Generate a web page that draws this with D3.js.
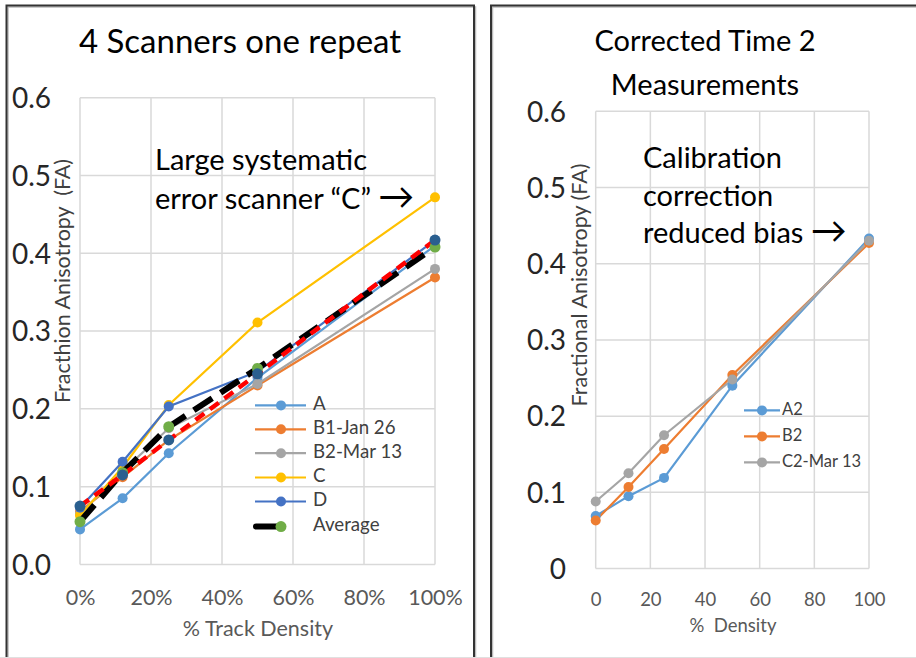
<!DOCTYPE html>
<html><head><meta charset="utf-8">
<script src="https://cdn.jsdelivr.net/npm/d3@7"></script>
<style>
html,body{margin:0;padding:0;background:#fff;}
svg{display:block;font-family:Lato,"Open Sans",sans-serif;}
</style></head>
<body>
<svg id="chart" width="916" height="658"></svg>
<script>
// ---------- data: left chart ----------
const leftDensity = [0, 12, 25, 50, 100];             // % track density
const leftSeriesNames = ["A", "B1-Jan 26", "B2-Mar 13", "C", "D"];
const valA  = [0.045, 0.085, 0.143, 0.240, 0.410];
const valB1 = [0.068, 0.112, 0.160, 0.230, 0.369];
const valB2 = [0.065, 0.120, 0.175, 0.232, 0.380];
const valC  = [0.063, 0.125, 0.205, 0.311, 0.472];
const valD  = [0.073, 0.132, 0.203, 0.248, 0.417];
const valAverage = [0.055, 0.118, 0.177, 0.252, 0.408];
const valFit = [0.075, 0.115, 0.160, 0.245, 0.417];   // red dashed line (not in legend)
const leftXTicks = [0, 20, 40, 60, 80, 100];
const leftYTicks = [0, 0.1, 0.2, 0.3, 0.4, 0.5, 0.6];

// ---------- data: right chart ----------
const rightDensity = [0, 12, 25, 50, 100];
const rightSeriesNames = ["A2", "B2", "C2-Mar 13"];
const valA2 = [0.069, 0.095, 0.119, 0.240, 0.433];
const valB2r = [0.063, 0.107, 0.157, 0.254, 0.427];
const valC2 = [0.088, 0.125, 0.175, 0.248, 0.430];
const rightXTicks = [0, 20, 40, 60, 80, 100];
const rightYTicks = [0, 0.1, 0.2, 0.3, 0.4, 0.5, 0.6];

const svg = d3.select("#chart");
const gridColor = "#d9d9d9";
const tickColor = "#595959";

// panel borders
function panelBorder(x1, x2, top) {
  const g = svg.append("g");
  const p = `M${x1},660 L${x1},${top} L${x2},${top} L${x2},660`;
  g.append("path").attr("d", p).attr("fill", "none")
    .attr("stroke", "#bbb").attr("stroke-width", 1.5).attr("transform", "translate(1.5,1.5)");
  g.append("path").attr("d", p).attr("fill", "none").attr("stroke", "#333").attr("stroke-width", 2);
}
panelBorder(6.5, 474, 5.5);
panelBorder(491, 930, 5.5);
svg.append("line").attr("x1", 0).attr("x2", 916).attr("y1", 657.5).attr("y2", 657.5)
  .attr("stroke", "#e0e0e0").attr("stroke-width", 1);

function drawPanel(cfg) {
  const g = svg.append("g");
  const x = d3.scaleLinear().domain([0, 100]).range([cfg.x0, cfg.x1]);
  const y = d3.scaleLinear().domain([0, 0.6]).range([cfg.y0, cfg.y1]);
  // grid
  g.append("g").selectAll("line").data(cfg.xTicks).join("line")
    .attr("x1", d => x(d)).attr("x2", d => x(d)).attr("y1", y(0)).attr("y2", y(0.6))
    .attr("stroke", gridColor).attr("stroke-width", 1.5);
  g.append("g").selectAll("line").data(cfg.yTicks).join("line")
    .attr("x1", x(0)).attr("x2", x(100)).attr("y1", d => y(d)).attr("y2", d => y(d))
    .attr("stroke", gridColor).attr("stroke-width", 1.5);
  // axes via d3 axis generators
  const xAxis = d3.axisBottom(x).tickValues(cfg.xTicks).tickFormat(cfg.xFmt).tickSize(0).tickPadding(0);
  const xa = g.append("g").attr("transform", `translate(0,${cfg.xLabelY})`).call(xAxis);
  xa.select(".domain").remove();
  xa.selectAll("text").attr("fill", tickColor).attr("font-size", cfg.xTickSize)
    .attr("font-family", "Lato").attr("dy", "0.35em").attr("y", 0);
  const yAxis = d3.axisLeft(y).tickValues(cfg.yTicks).tickFormat(cfg.yFmt).tickSize(0).tickPadding(0);
  const ya = g.append("g").attr("transform", `translate(${cfg.yLabelX},0)`).call(yAxis);
  ya.select(".domain").remove();
  ya.selectAll("text").attr("fill", "#262626").attr("font-size", 28).attr("font-family", "Lato")
    .attr("dy", "0.35em").attr("x", 0);
  return {g, x, y};
}

// ---------- LEFT ----------
const L = drawPanel({x0: 80, x1: 435, y0: 564.4, y1: 97.8,
  xTicks: leftXTicks, yTicks: leftYTicks,
  xFmt: d => d + "%", yFmt: d3.format(".1f"),
  xLabelY: 597, yLabelX: 51, xTickSize: 21.5});

svg.append("text").attr("x", 240).attr("y", 45).attr("text-anchor", "middle")
  .attr("dominant-baseline", "middle").attr("font-size", 33).attr("fill", "#000")
  .text("4 Scanners one repeat");
svg.append("text").attr("transform", "translate(65,281) rotate(-90)").attr("text-anchor", "middle")
  .attr("dominant-baseline", "middle").attr("font-size", 21.5).attr("fill", "#404040")
  .attr("xml:space", "preserve").text("Fracthion Anisotropy  (FA)");
svg.append("text").attr("x", 258).attr("y", 631).attr("text-anchor", "middle")
  .attr("dominant-baseline", "middle").attr("font-size", 21.5).attr("fill", tickColor)
  .text("% Track Density");
const annL = svg.append("text").attr("font-size", 29).attr("fill", "#000");
annL.append("tspan").attr("x", 155).attr("y", 170).text("Large systematic");
annL.append("tspan").attr("x", 155).attr("y", 208.5).text("error scanner \u201CC\u201D ");
annL.append("tspan").attr("font-size", 36).text("\u2192");

const leftSeries = [
  {name: "A", vals: valA, color: "#5B9BD5"},
  {name: "B1-Jan 26", vals: valB1, color: "#ED7D31"},
  {name: "B2-Mar 13", vals: valB2, color: "#A5A5A5"},
  {name: "C", vals: valC, color: "#FFC000"},
  {name: "D", vals: valD, color: "#4472C4"}
];
const lineL = d3.line().x((d, i) => L.x(leftDensity[i])).y(d => L.y(d));
leftSeries.forEach(s => {
  L.g.append("path").attr("d", lineL(s.vals)).attr("fill", "none").attr("stroke", s.color).attr("stroke-width", 2.2);
  L.g.selectAll(null).data(s.vals).join("circle").attr("cx", (d, i) => L.x(leftDensity[i])).attr("cy", d => L.y(d))
    .attr("r", 5).attr("fill", s.color);
});
// average
L.g.append("path").attr("d", lineL(valAverage)).attr("fill", "none").attr("stroke", "#000")
  .attr("stroke-width", 6).attr("stroke-dasharray", "22,10");
// red dashed fit
L.g.append("path").attr("d", lineL(valFit)).attr("fill", "none").attr("stroke", "#FF0000")
  .attr("stroke-width", 4.5).attr("stroke-dasharray", "11,7");
L.g.selectAll(null).data(valAverage).join("circle").attr("cx", (d, i) => L.x(leftDensity[i])).attr("cy", d => L.y(d))
  .attr("r", 5.5).attr("fill", "#70AD47");
L.g.selectAll(null).data(valFit).join("circle").attr("cx", (d, i) => L.x(leftDensity[i])).attr("cy", d => L.y(d))
  .attr("r", 5.5).attr("fill", "#2A5F8F");

// left legend
const legL = svg.append("g");
const legLY = [405.4, 429.3, 453.2, 477.5, 501.5];
leftSeries.forEach((s, i) => {
  legL.append("line").attr("x1", 255).attr("x2", 306).attr("y1", legLY[i]).attr("y2", legLY[i])
    .attr("stroke", s.color).attr("stroke-width", 2.2);
  legL.append("circle").attr("cx", 281).attr("cy", legLY[i]).attr("r", 5).attr("fill", s.color);
  legL.append("text").attr("x", 313).attr("y", legLY[i]).attr("dominant-baseline", "middle")
    .attr("font-size", 18.7).attr("fill", "#404040").text(s.name);
});
legL.append("line").attr("x1", 256).attr("x2", 279).attr("y1", 526.6).attr("y2", 526.6)
  .attr("stroke", "#000").attr("stroke-width", 6).attr("stroke-linecap", "round");
legL.append("circle").attr("cx", 281).attr("cy", 526.6).attr("r", 5.5).attr("fill", "#70AD47");
legL.append("text").attr("x", 313).attr("y", 526.6).attr("dominant-baseline", "middle")
  .attr("font-size", 18.7).attr("fill", "#404040").text("Average");

// ---------- RIGHT ----------
const R = drawPanel({x0: 595.7, x1: 869, y0: 568.6, y1: 111.2,
  xTicks: rightXTicks, yTicks: rightYTicks,
  xFmt: d => String(d), yFmt: d => d === 0 ? "0" : d3.format(".1f")(d),
  xLabelY: 600, yLabelX: 566, xTickSize: 18.5});

const t2 = svg.append("text").attr("text-anchor", "middle").attr("font-size", 29).attr("fill", "#000");
t2.append("tspan").attr("x", 705).attr("y", 44).attr("dominant-baseline", "middle").text("Corrected Time 2");
t2.append("tspan").attr("x", 705).attr("y", 88).attr("dominant-baseline", "middle").text("Measurements");
svg.append("text").attr("transform", "translate(581.7,285) rotate(-90)").attr("text-anchor", "middle")
  .attr("dominant-baseline", "middle").attr("font-size", 21.5).attr("fill", "#404040")
  .text("Fractional Anisotropy (FA)");
svg.append("text").attr("x", 733).attr("y", 627).attr("text-anchor", "middle")
  .attr("dominant-baseline", "middle").attr("font-size", 18.5).attr("fill", tickColor)
  .attr("xml:space", "preserve").text("%  Density");
const annR = svg.append("text").attr("font-size", 29).attr("fill", "#000");
annR.append("tspan").attr("x", 643).attr("y", 168).text("Calibration");
annR.append("tspan").attr("x", 643).attr("y", 205.6).text("correction");
annR.append("tspan").attr("x", 643).attr("y", 243).text("reduced bias ");
annR.append("tspan").attr("font-size", 36).text("\u2192");

const rightSeries = [
  {name: "A2", vals: valA2, color: "#5B9BD5"},
  {name: "B2", vals: valB2r, color: "#ED7D31"},
  {name: "C2-Mar 13", vals: valC2, color: "#A5A5A5"}
];
const lineR = d3.line().x((d, i) => R.x(rightDensity[i])).y(d => R.y(d));
rightSeries.forEach(s => {
  R.g.append("path").attr("d", lineR(s.vals)).attr("fill", "none").attr("stroke", s.color).attr("stroke-width", 2.2);
});
rightSeries.forEach(s => {
  R.g.selectAll(null).data(s.vals).join("circle").attr("cx", (d, i) => R.x(rightDensity[i])).attr("cy", d => R.y(d))
    .attr("r", 5).attr("fill", s.color);
});
const legR = svg.append("g");
const legRY = [410.4, 436.4, 462.4];
rightSeries.forEach((s, i) => {
  legR.append("line").attr("x1", 744).attr("x2", 780).attr("y1", legRY[i]).attr("y2", legRY[i])
    .attr("stroke", s.color).attr("stroke-width", 2.2);
  legR.append("circle").attr("cx", 762).attr("cy", legRY[i]).attr("r", 5).attr("fill", s.color);
  legR.append("text").attr("x", 782).attr("y", legRY[i]).attr("dominant-baseline", "middle")
    .attr("font-size", 16.5).attr("fill", "#404040").text(s.name);
});
</script>
</body></html>
